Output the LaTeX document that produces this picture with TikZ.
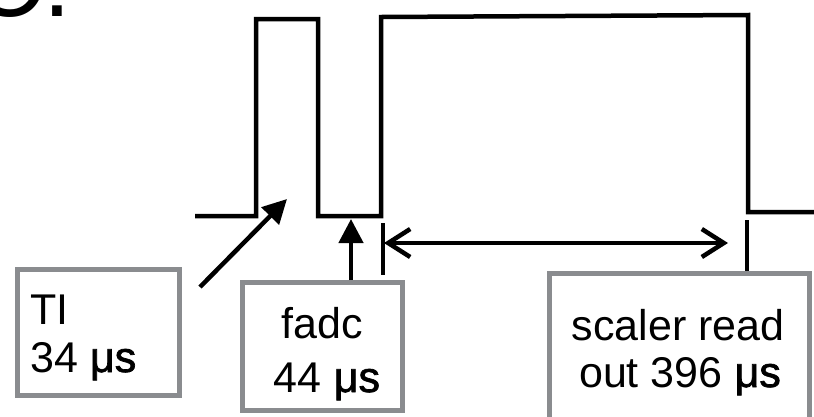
\documentclass[tikz,border=0pt]{standalone}
\usepackage{fontspec}
\setmainfont{Liberation Sans}
\newfontfamily\mufont[FakeBold=1.6]{Liberation Sans}
\usetikzlibrary{arrows.meta}
\definecolor{boxgray}{RGB}{138,140,143}
\newcommand{\mus}{{\mufont μs}}
\tikzset{
  wave/.style={line width=4.5pt, line join=miter},
  tbox/.style={draw=boxgray, line width=5pt, inner sep=0pt},
  lbl/.style={inner sep=0pt, font=\fontsize{43}{48}\selectfont},
  ptr/.style={line width=4.5pt, -{Triangle[length=24pt,width=24pt]}},
  span/.style={line width=4.5pt, {Straight Barb[length=22pt,width=28pt]}-{Straight Barb[length=22pt,width=28pt]}},
  tick/.style={line width=4.5pt},
}
\begin{document}
\begin{tikzpicture}[x=1pt,y=-1pt]
\useasboundingbox (0,0) rectangle (814,416);
\clip (0,0) rectangle (814,416);
% heading fragment
\node[anchor=base west, inner sep=0pt, font=\fontsize{100}{100}\selectfont] (head) at (-29,16) {C.};
% waveform
\draw[wave] (195,216) -- (256,216) -- (256,19) -- (318,19) -- (318,216) -- (381,216)
  -- (381,17) -- (748,15) -- (748,212) -- (816,212);
% boxes
\node[tbox, minimum width=162pt, minimum height=126pt] (ti) at (98.5,332.5) {};
\node[lbl, anchor=base west] (ti1) at (30,324) {TI};
\node[lbl, anchor=base west] (ti2) at (30,372) {34 \mus};
\node[tbox, minimum width=160pt, minimum height=128pt] (fadc) at (322.5,346.5) {};
\node[lbl, anchor=base] (fadc1) at (322.5,338) {fadc};
\node[lbl, anchor=base] (fadc2) at (327,392) {44 \mus};
\node[tbox, minimum width=260pt, minimum height=180pt, anchor=north] (scaler) at (679.5,270.5) {};
\node[lbl, anchor=base] (sc1) at (678,340) {scaler read};
\node[lbl, anchor=base] (sc2) at (680,387) {out 396 \mus};
% pointers
\coordinate (tistart) at (200,287);
\coordinate (titip) at (287,199);
\draw[ptr] (tistart) -- (titip);
\coordinate (fadctip) at (351,219);
\draw[ptr] (fadc.north -| fadctip) -- (fadctip);
% ticks and span
\coordinate (lt1) at (383,223); \coordinate (lt2) at (383,275);
\coordinate (rt1) at (747,220); \coordinate (rt2) at (747,270.5);
\draw[tick] (lt1) -- (lt2);
\draw[tick] (rt1) -- (rt2);
\coordinate (sl) at (384,243); \coordinate (sr) at (728,243);
\draw[span] (sl) -- (sr);
\end{tikzpicture}
\end{document}
